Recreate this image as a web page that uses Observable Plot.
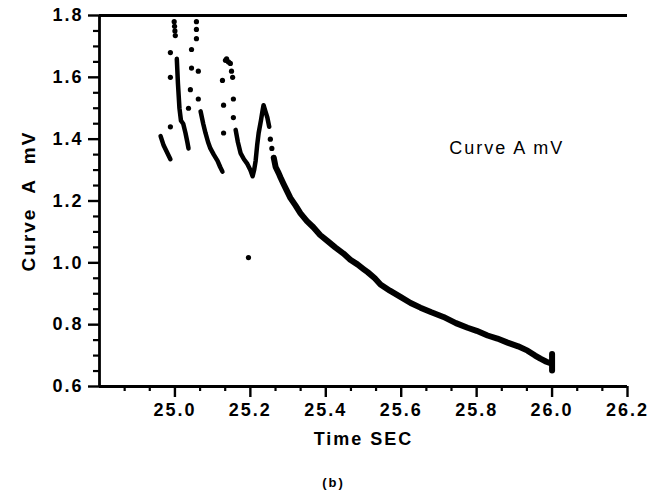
<!DOCTYPE html>
<html>
<head>
<meta charset="utf-8">
<script src="https://cdn.jsdelivr.net/npm/d3@7"></script>
<script src="https://cdn.jsdelivr.net/npm/@observablehq/plot@0.6"></script>
<style>
  html, body { margin: 0; padding: 0; background: #fff; }
</style>
</head>
<body>
<div id="chart"></div>
<script>
// ---- data ----
// continuous runs of points (segment id, time in s, value in mV)
const segId = [
  1,1,1,1,
  2,2,2,2,2,2,2,2,
  3,3,3,3,3,3,3,3,3,
  4,4,4,4,4,4,4,4,4,4,4,4,4,4,4,4,4,
  5,5,5,5,5,5,5,5,5,5,5,5,5,5,5,5,5,5,5,5,5,5,5,5,5,5,5,5,5,5,5,5,5,5,5,5,5,5,5,
  6,6
];
const segTime = [
  24.962, 24.970, 24.978, 24.988,
  25.005, 25.008, 25.012, 25.016, 25.022, 25.028, 25.033, 25.036,
  25.068, 25.075, 25.081, 25.088, 25.094, 25.103, 25.113, 25.120, 25.126,
  25.161, 25.167, 25.174, 25.183, 25.192, 25.200, 25.206, 25.210, 25.214, 25.218, 25.222, 25.228, 25.232, 25.235, 25.240, 25.245, 25.250,
  25.262, 25.267, 25.275, 25.280, 25.288, 25.296, 25.306, 25.320, 25.333, 25.350, 25.367, 25.385, 25.405, 25.425, 25.447, 25.465, 25.484, 25.500, 25.511, 25.530, 25.545, 25.570, 25.598, 25.625, 25.651, 25.680, 25.712, 25.745, 25.776, 25.800, 25.829, 25.855, 25.882, 25.910, 25.935, 25.955, 25.969, 25.985, 25.996,
  26.000, 26.000
];
const segValue = [
  1.41, 1.38, 1.36, 1.335,
  1.66, 1.58, 1.50, 1.46, 1.45, 1.42, 1.39, 1.37,
  1.49, 1.45, 1.42, 1.39, 1.37, 1.35, 1.33, 1.31, 1.295,
  1.43, 1.39, 1.355, 1.335, 1.32, 1.30, 1.28, 1.30, 1.33, 1.38, 1.42, 1.46, 1.49, 1.51, 1.49, 1.47, 1.44,
  1.34, 1.31, 1.29, 1.276, 1.255, 1.235, 1.21, 1.185, 1.16, 1.135, 1.115, 1.09, 1.07, 1.05, 1.03, 1.01, 0.995, 0.98, 0.97, 0.95, 0.93, 0.91, 0.89, 0.87, 0.855, 0.84, 0.825, 0.805, 0.79, 0.78, 0.765, 0.755, 0.742, 0.73, 0.716, 0.70, 0.69, 0.68, 0.675,
  0.705, 0.652
];
// isolated sample dots
const dotTime = [
  24.988, 24.988, 24.988, 24.998, 24.999, 25.000, 25.001,
  25.036, 25.041, 25.044, 25.044, 25.057, 25.057, 25.057, 25.062, 25.062,
  25.129, 25.129, 25.126, 25.134, 25.137, 25.142, 25.147, 25.150, 25.153, 25.155, 25.155,
  25.253, 25.257, 25.195
];
const dotValue = [
  1.44, 1.60, 1.68, 1.78, 1.765, 1.75, 1.735,
  1.50, 1.56, 1.63, 1.69, 1.78, 1.755, 1.725, 1.62, 1.53,
  1.42, 1.51, 1.59, 1.655, 1.66, 1.65, 1.645, 1.62, 1.60, 1.53, 1.47,
  1.40, 1.37, 1.017
];
// axes
const xTicks = [25.0, 25.2, 25.4, 25.6, 25.8, 26.0, 26.2];
const xMinorTicks = [24.8667, 24.9333, 25.0667, 25.1333, 25.2667, 25.3333, 25.4667, 25.5333, 25.6667, 25.7333, 25.8667, 25.9333, 26.0667, 26.1333];
const yTicks = [0.6, 0.8, 1.0, 1.2, 1.4, 1.6, 1.8];
const yMinorTicks = [0.65, 0.7, 0.75, 0.85, 0.9, 0.95, 1.05, 1.1, 1.15, 1.25, 1.3, 1.35, 1.45, 1.5, 1.55, 1.65, 1.7, 1.75];
const xDomain = [24.8, 26.2];
const yDomain = [0.6, 1.8];
const xLabel = "Time SEC";
const yLabel = "Curve  A  mV";
const caption = "(b)";
const noteLabel = ["Curve A mV"];
const noteTime = [25.88];
const noteValue = [1.37];

// ---- build tables ----
const segments = segTime.map((t, i) => ({seg: segId[i], t, v: segValue[i]}));
const dots = dotTime.map((t, i) => ({t, v: dotValue[i]}));
const notes = noteLabel.map((s, i) => ({s, t: noteTime[i], v: noteValue[i]}));

const fmt = d3.format(".1f");

const chart = Plot.plot({
  width: 661,
  height: 494,
  marginLeft: 99,
  marginRight: 34,
  marginTop: 15,
  marginBottom: 108,
  style: {
    fontFamily: "'Liberation Sans', Arial, sans-serif",
    fontWeight: "bold",
    color: "black",
    background: "white",
    letterSpacing: "2px"
  },
  x: {domain: xDomain},
  y: {domain: yDomain},
  marks: [
    // frame: left, bottom, top
    Plot.ruleX([xDomain[0]], {stroke: "black", strokeWidth: 2.8}),
    Plot.ruleY([yDomain[0]], {stroke: "black", strokeWidth: 2.8}),
    Plot.ruleY([yDomain[1]], {stroke: "black", strokeWidth: 2.8}),
    // x axis
    Plot.axisX({ticks: xTicks, tickSize: 11, tickPadding: 6, tickFormat: fmt, fontSize: 18, strokeWidth: 2.4, label: null}),
    Plot.axisX({ticks: xMinorTicks, tickSize: 5, tickFormat: () => "", strokeWidth: 2.2, label: null}),
    // y axis
    Plot.axisY({ticks: yTicks, tickSize: 11, tickPadding: 5, tickFormat: fmt, fontSize: 18, strokeWidth: 2.4, label: null}),
    Plot.axisY({ticks: yMinorTicks, tickSize: 6, tickFormat: () => "", strokeWidth: 2.2, label: null}),
    // axis titles and caption
    Plot.text([xLabel], {frameAnchor: "bottom", dy: 58, fontSize: 18, fontWeight: "bold"}),
    Plot.text([yLabel], {frameAnchor: "left", textAnchor: "middle", dx: -71, rotate: -90, fontSize: 19, fontWeight: "bold"}),
    Plot.text([caption], {frameAnchor: "bottom", dy: 100, dx: -30, fontSize: 13, fontWeight: "bold"}),
    // data: early bursts (thinner) and decay tail (thicker)
    Plot.line(segments.filter(d => d.seg <= 4), {x: "t", y: "v", z: "seg", stroke: "black", strokeWidth: 4.5, strokeLinecap: "round", strokeLinejoin: "round"}),
    Plot.line(segments.filter(d => d.seg >= 5), {x: "t", y: "v", z: "seg", stroke: "black", strokeWidth: 6, strokeLinecap: "round", strokeLinejoin: "round"}),
    Plot.dot(dots, {x: "t", y: "v", r: 2.6, fill: "black"}),
    // in-plot legend text
    Plot.text(notes, {x: "t", y: "v", text: "s", fontSize: 18, fontWeight: "normal"})
  ]
});
document.getElementById("chart").appendChild(chart);
</script>
</body>
</html>
